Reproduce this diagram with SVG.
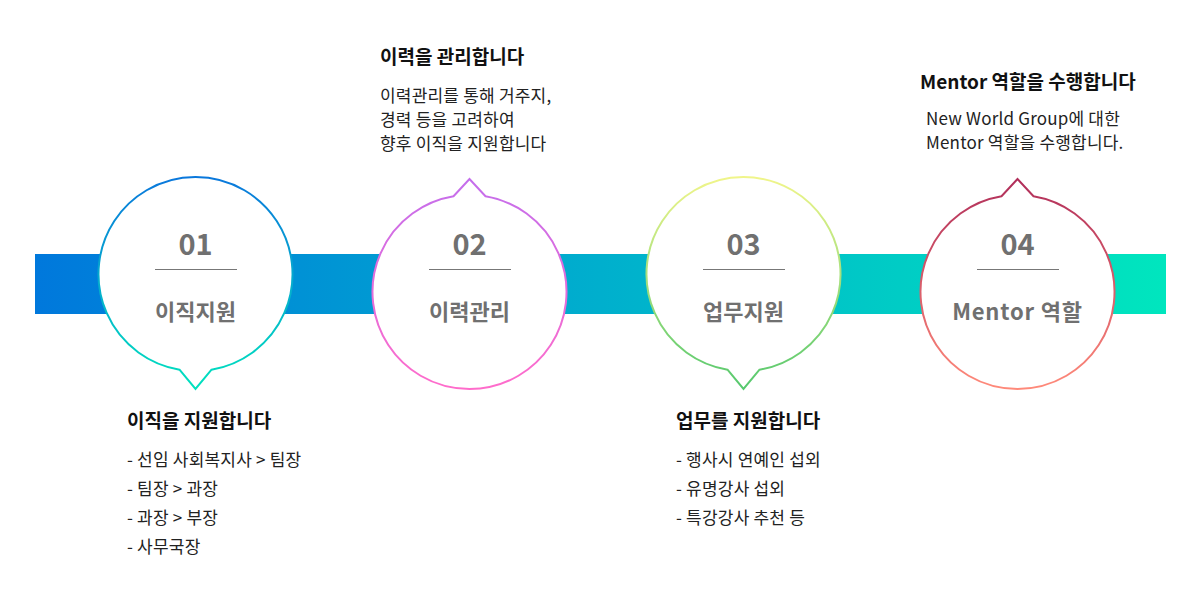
<svg xmlns="http://www.w3.org/2000/svg" width="1200" height="600" viewBox="0 0 1200 600">
<style>
.num{font-family:"Noto Sans CJK KR","Noto Sans",sans-serif;font-size:29px;font-weight:700;fill:#707070;text-anchor:middle}
.lbl{font-family:"Noto Sans CJK KR","Noto Sans",sans-serif;font-size:22px;font-weight:700;fill:#707070;text-anchor:middle}
.ttl{font-family:"Noto Sans CJK KR","Noto Sans",sans-serif;font-size:19px;font-weight:700;fill:#111}
.txt{font-family:"Noto Sans CJK KR","Noto Sans",sans-serif;font-size:17px;fill:#222;letter-spacing:0.2px}
.sep{stroke:#777;stroke-width:1}
.bub{fill:#fff;stroke-width:2}
</style>
<defs>
<linearGradient id="bar" x1="0" y1="0" x2="1" y2="0">
<stop offset="0" stop-color="#0078DC"/>
<stop offset="1" stop-color="#00E6BE"/>
</linearGradient>
<linearGradient id="g1" x1="0" y1="0" x2="0" y2="1">
<stop offset="0" stop-color="#0A78DC"/>
<stop offset="1" stop-color="#00E2BE"/>
</linearGradient>
<linearGradient id="g2" x1="0" y1="0" x2="0" y2="1">
<stop offset="0" stop-color="#C46EEC"/>
<stop offset="1" stop-color="#FF6CCB"/>
</linearGradient>
<linearGradient id="g3" x1="0" y1="0" x2="0" y2="1">
<stop offset="0" stop-color="#F0F58A"/>
<stop offset="1" stop-color="#55C86E"/>
</linearGradient>
<linearGradient id="g4" x1="0" y1="0" x2="0" y2="1">
<stop offset="0" stop-color="#B02E5A"/>
<stop offset="1" stop-color="#FF8A7A"/>
</linearGradient>
</defs>
<rect width="1200" height="600" fill="#fff"/>
<g id="connectors">
<rect x="35" y="254" width="1131" height="60" fill="url(#bar)"/>
</g>
<g id="node1">
<path class="bub" stroke="url(#g1)" d="M179.5,369.7 L195.5,389 L211.5,369.7 A97,97 0 1 0 179.5,369.7 Z"/>
<text class="num" x="195.5" y="255">01</text>
<line class="sep" x1="155" y1="269.5" x2="237" y2="269.5"/>
<text class="lbl" x="195.5" y="320">이직지원</text>
</g>
<g id="node2">
<path class="bub" stroke="url(#g2)" d="M485.5,196.3 L469.5,179 L453.5,196.3 A97,97 0 1 0 485.5,196.3 Z"/>
<text class="num" x="469.5" y="255">02</text>
<line class="sep" x1="429" y1="269.5" x2="511" y2="269.5"/>
<text class="lbl" x="469.5" y="320">이력관리</text>
</g>
<g id="node3">
<path class="bub" stroke="url(#g3)" d="M727.5,369.7 L743.5,389 L759.5,369.7 A97,97 0 1 0 727.5,369.7 Z"/>
<text class="num" x="743.5" y="255">03</text>
<line class="sep" x1="703" y1="269.5" x2="785" y2="269.5"/>
<text class="lbl" x="743.5" y="320">업무지원</text>
</g>
<g id="node4">
<path class="bub" stroke="url(#g4)" d="M1033.5,196.3 L1017.5,179 L1001.5,196.3 A97,97 0 1 0 1033.5,196.3 Z"/>
<text class="num" x="1017.5" y="255">04</text>
<line class="sep" x1="977" y1="269.5" x2="1059" y2="269.5"/>
<text class="lbl" x="1017.5" y="320" letter-spacing="0.8">Mentor 역할</text>
</g>
<g id="desc1">
<text class="ttl" x="127" y="428">이직을 지원합니다</text>
<text class="txt" x="127" y="466">- 선임 사회복지사 &gt; 팀장</text>
<text class="txt" x="127" y="495">- 팀장 &gt; 과장</text>
<text class="txt" x="127" y="524">- 과장 &gt; 부장</text>
<text class="txt" x="127" y="553">- 사무국장</text>
</g>
<g id="desc2">
<text class="ttl" x="380" y="64">이력을 관리합니다</text>
<text class="txt" x="380" y="102">이력관리를 통해 거주지,</text>
<text class="txt" x="380" y="126">경력 등을 고려하여</text>
<text class="txt" x="380" y="150">향후 이직을 지원합니다</text>
</g>
<g id="desc3">
<text class="ttl" x="676" y="428">업무를 지원합니다</text>
<text class="txt" x="676" y="466">- 행사시 연예인 섭외</text>
<text class="txt" x="676" y="495">- 유명강사 섭외</text>
<text class="txt" x="676" y="524">- 특강강사 추천 등</text>
</g>
<g id="desc4">
<text class="ttl" x="920" y="89">Mentor 역할을 수행합니다</text>
<text class="txt" x="926" y="125">New World Group에 대한</text>
<text class="txt" x="926" y="149">Mentor 역할을 수행합니다.</text>
</g>
</svg>
